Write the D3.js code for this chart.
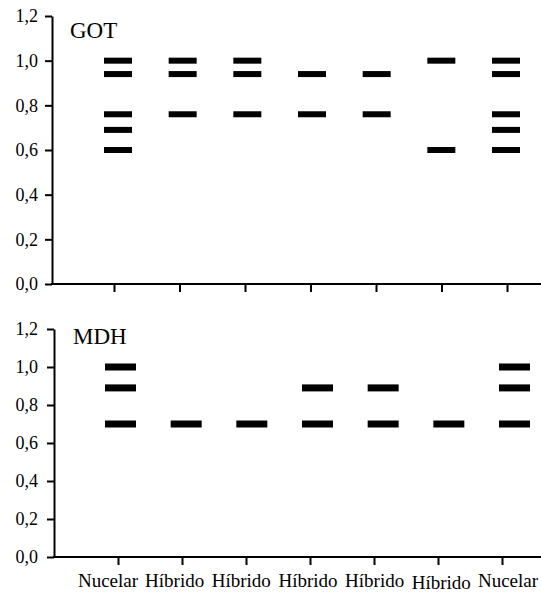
<!DOCTYPE html>
<html>
<head>
<meta charset="utf-8">
<script src="https://cdn.jsdelivr.net/npm/d3@7"></script>
<style>
  body { margin: 0; background: #fff; }
  svg text { font-family: "Liberation Serif", Tinos, "Times New Roman", Times, "DejaVu Serif", serif; fill: #000; }
</style>
</head>
<body>
<div id="chart"></div>
<script>
// sample lanes
var lanes = ["Nucelar", "Híbrido", "Híbrido", "Híbrido", "Híbrido", "Híbrido", "Nucelar"];
var yTicks = [0, 0.2, 0.4, 0.6, 0.8, 1.0, 1.2];

// relative mobility of bands per lane
var gotBands = [
  [1.0, 0.94, 0.76, 0.69, 0.6],
  [1.0, 0.94, 0.76],
  [1.0, 0.94, 0.76],
  [0.94, 0.76],
  [0.94, 0.76],
  [1.0, 0.6],
  [1.0, 0.94, 0.76, 0.69, 0.6]
];
var mdhBands = [
  [1.0, 0.89, 0.70],
  [0.70],
  [0.70],
  [0.89, 0.70],
  [0.89, 0.70],
  [0.70],
  [1.0, 0.89, 0.70]
];

var comma = d3.formatLocale({decimal: ",", thousands: ".", grouping: [3], currency: ["", ""]}).format(".1f");

var svg = d3.select("#chart").append("svg")
  .attr("width", 541).attr("height", 592);

//Draw one zymogram panel
function draw_panel(cfg) {
  var idx = d3.range(lanes.length);
  var y = d3.scaleLinear().domain([0, 1.2]).range([cfg.bottom, cfg.top]);
  var xBar = d3.scalePoint().domain(idx).range(cfg.barRange);
  var xTick = d3.scalePoint().domain(idx).range(cfg.tickRange);
  var g = svg.append("g");

  // y axis
  var ya = g.append("g")
    .attr("transform", "translate(" + cfg.left + ",0)")
    .call(d3.axisLeft(y).tickValues(yTicks).tickSize(7).tickSizeOuter(0)
      .tickPadding(cfg.pad).tickFormat(comma));
  ya.attr("font-family", null).attr("font-size", null);
  ya.selectAll("path, line").attr("stroke", "#000").attr("stroke-width", 2);
  ya.selectAll("text").style("font-size", "18px");

  // x baseline + ticks
  g.append("line")
    .attr("x1", cfg.left - 1).attr("x2", 541)
    .attr("y1", cfg.bottom).attr("y2", cfg.bottom)
    .attr("stroke", "#000").attr("stroke-width", 2);
  var xa = g.append("g")
    .attr("transform", "translate(0," + cfg.bottom + ")")
    .call(d3.axisBottom(xTick).tickSize(8).tickFormat(""));
  xa.select(".domain").remove();
  xa.selectAll("line").attr("stroke", "#000").attr("stroke-width", 2);

  // bands
  var flat = [];
  cfg.data.forEach(function(list, i) {
    list.forEach(function(v) { flat.push({lane: i, v: v}); });
  });
  g.selectAll("rect.band").data(flat).enter().append("rect")
    .attr("class", "band")
    .attr("x", function(d) { return xBar(d.lane) - cfg.bw / 2; })
    .attr("y", function(d) { return y(d.v) - cfg.bh / 2; })
    .attr("width", cfg.bw)
    .attr("height", cfg.bh)
    .attr("fill", "#000");

  g.append("text").text(cfg.title)
    .attr("x", cfg.titleX).attr("y", cfg.titleY)
    .style("font-size", "23px");
}

draw_panel({title: "GOT", data: gotBands, top: 16, bottom: 284, left: 52, pad: 7,
  barRange: [118, 506], tickRange: [114, 507], bw: 28, bh: 6, titleX: 70, titleY: 38});
draw_panel({title: "MDH", data: mdhBands, top: 329, bottom: 557, left: 54, pad: 9,
  barRange: [120.5, 514.5], tickRange: [118, 502], bw: 31, bh: 7, titleX: 73, titleY: 344});

// lane labels under the lower panel
var xLab = d3.scalePoint().domain(d3.range(lanes.length)).range([108, 508]);
svg.selectAll("text.lane").data(lanes).enter().append("text")
  .attr("class", "lane")
  .attr("x", function(d, i) { return xLab(i); })
  .attr("y", function(d, i) { return i == 5 ? 589 : 587; })
  .attr("text-anchor", "middle")
  .style("font-size", "19px")
  .text(function(d) { return d; });
</script>
</body>
</html>
